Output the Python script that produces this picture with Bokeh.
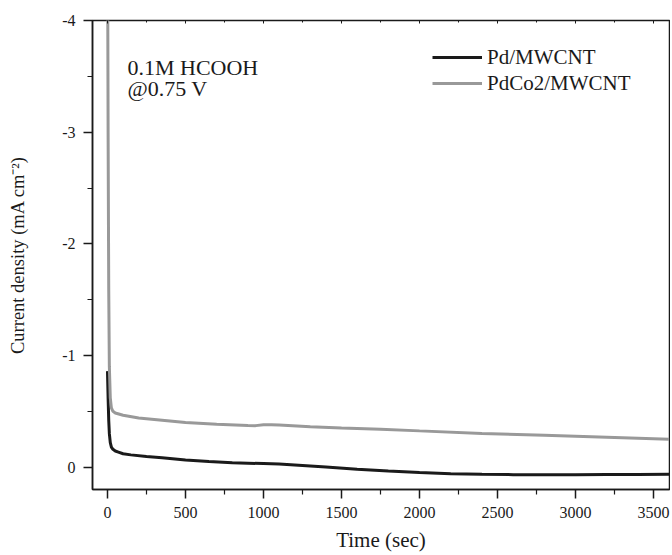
from bokeh.plotting import figure
from bokeh.models import Range1d, FixedTicker, LinearAxis, Label, Legend, LegendItem
from bokeh.embed import file_html
from bokeh.resources import INLINE

# ---- data ----
time_pd = [0, 4, 8, 12, 18, 25, 35, 50, 70, 100, 150, 250, 350, 500, 650, 800,
           900, 1000, 1100, 1200, 1400, 1600, 1800, 2000, 2200, 2400, 2600,
           2800, 3000, 3200, 3400, 3600]
current_pd = [-0.86, -0.62, -0.42, -0.30, -0.22, -0.18, -0.16, -0.145, -0.135,
              -0.12, -0.11, -0.095, -0.085, -0.065, -0.05, -0.04, -0.036, -0.032,
              -0.028, -0.02, -0.002, 0.018, 0.035, 0.048, 0.058, 0.064, 0.067,
              0.068, 0.067, 0.066, 0.065, 0.063]

time_pdco = [0, 4, 8, 12, 18, 25, 35, 50, 100, 200, 350, 500, 700, 900, 950,
             1000, 1050, 1100, 1300, 1500, 1750, 2000, 2400, 2800, 3200, 3600]
current_pdco = [-5.0, -3.0, -1.6, -0.9, -0.62, -0.53, -0.50, -0.485, -0.465,
                -0.44, -0.42, -0.40, -0.385, -0.373, -0.372, -0.380, -0.380,
                -0.377, -0.362, -0.35, -0.34, -0.325, -0.302, -0.285, -0.268,
                -0.25]

x_ticks = [0, 500, 1000, 1500, 2000, 2500, 3000, 3500]
x_minor = [250, 750, 1250, 1750, 2250, 2750, 3250]
y_ticks = [0, -1, -2, -3, -4]
y_minor = [-0.5, -1.5, -2.5, -3.5]
y_tick_labels = {0: "0", -1: "-1", -2: "-2", -3: "-3", -4: "-4"}

series_names = ["Pd/MWCNT", "PdCo2/MWCNT"]
series_colors = ["#1a1a1a", "#999999"]

FONT = "Liberation Serif"

p = figure(width=670, height=555, output_backend="svg", toolbar_location=None,
           x_range=Range1d(-96, 3602), y_range=Range1d(0.2, -4.0),
           min_border_left=92, min_border_right=1, min_border_top=20,
           min_border_bottom=66, x_axis_type=None, y_axis_type=None)
p.grid.visible = False
p.outline_line_color = "#1a1a1a"
p.outline_line_width = 1.5

xt = FixedTicker(ticks=x_ticks, minor_ticks=x_minor)
yt = FixedTicker(ticks=y_ticks, minor_ticks=y_minor)

xaxis = LinearAxis(ticker=xt, axis_label="Time (sec)")
yaxis = LinearAxis(ticker=yt, axis_label="Current density (mA cm\u207b\u00b2)",
                   major_label_overrides=y_tick_labels)
for ax in (xaxis, yaxis):
    ax.axis_line_width = 1.5
    ax.axis_line_color = "#1a1a1a"
    ax.major_tick_line_width = 1.5
    ax.minor_tick_line_width = 1.2
    ax.major_tick_line_color = "#1a1a1a"
    ax.minor_tick_line_color = "#1a1a1a"
    ax.major_tick_in = 0
    ax.major_tick_out = 9
    ax.minor_tick_in = 0
    ax.minor_tick_out = 5
    ax.major_label_text_font = FONT
    ax.major_label_text_font_size = "16px"
    ax.major_label_text_color = "#1a1a1a"
    ax.axis_label_text_font = FONT
    ax.axis_label_text_font_style = "normal"
    ax.axis_label_text_color = "#1a1a1a"
xaxis.axis_label_text_font_size = "21px"
yaxis.axis_label_text_font_size = "18.5px"
xaxis.major_label_standoff = 8
xaxis.axis_label_standoff = 7
yaxis.major_label_standoff = 8
yaxis.axis_label_standoff = 31
p.add_layout(xaxis, "below")
p.add_layout(yaxis, "left")

top = LinearAxis(ticker=xt, major_label_text_color=None,
                 major_label_text_font_size="10px",
                 major_tick_in=3, major_tick_out=0, minor_tick_in=2,
                 minor_tick_out=0, axis_line_color=None,
                 major_tick_line_color="#1a1a1a", minor_tick_line_color="#1a1a1a",
                 major_label_standoff=0)
p.add_layout(top, "above")

r1 = p.line(time_pd, current_pd, line_color=series_colors[0], line_width=3)
r2 = p.line(time_pdco, current_pdco, line_color=series_colors[1], line_width=3)

legend = Legend(items=[LegendItem(label=series_names[0], renderers=[r1]),
                       LegendItem(label=series_names[1], renderers=[r2])],
                location=(340, 393), orientation="vertical")
legend.background_fill_alpha = 0
legend.border_line_color = None
legend.padding = 0
legend.margin = 0
legend.spacing = 0
legend.glyph_width = 50
legend.glyph_height = 26
legend.label_height = 26
legend.label_standoff = 5
legend.label_text_font = FONT
legend.label_text_font_size = "21px"
legend.label_text_color = "#1a1a1a"
p.add_layout(legend, "center")

for txt, yv in (("0.1M HCOOH", -3.58), ("@0.75 V", -3.39)):
    p.add_layout(Label(x=128, y=yv, text=txt, text_font=FONT,
                       text_font_size="22px", text_color="#1a1a1a",
                       text_baseline="alphabetic"))

open("out.html", "w").write(file_html(p, INLINE))
